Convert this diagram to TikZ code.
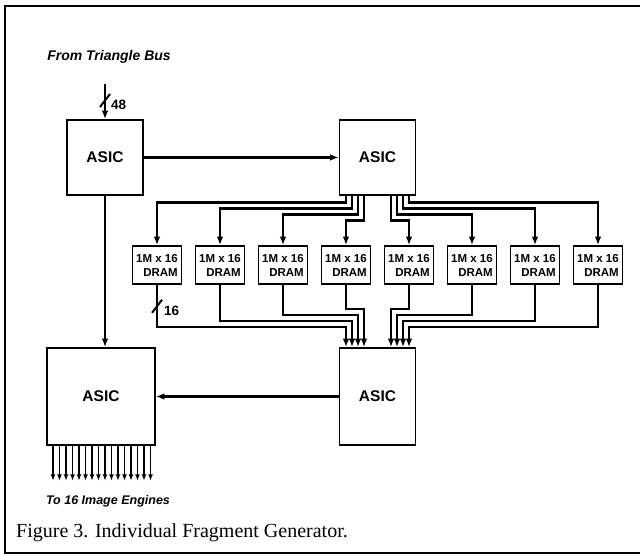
\documentclass[tikz,border=0pt]{standalone}
\usepackage{fontspec}
\setmainfont{Liberation Sans}
\newfontfamily\capfont{Liberation Serif}
\usetikzlibrary{arrows.meta,calc}
\begin{document}
\begin{tikzpicture}[x=1pt,y=-1pt,
 conn/.style={line width=2.6pt,-{Latex[length=8.5pt,width=6.5pt]}},
 fine/.style={line width=1.9pt,-{Latex[length=6.5pt,width=5pt]}},
 asic/.style={draw,line width=1.6pt,minimum width=76pt,minimum height=75pt,inner sep=0pt,font=\bfseries\fontsize{15.5}{17}\selectfont},
 dram/.style={draw,line width=1.6pt,minimum width=49pt,minimum height=38pt,inner sep=0pt,align=right,font=\bfseries\fontsize{11.5}{14}\selectfont},
 lbl/.style={font=\bfseries\itshape\fontsize{14}{16}\selectfont,inner sep=0pt},
 num/.style={font=\bfseries\fontsize{13.5}{15}\selectfont,inner sep=0pt,anchor=west},
 slash/.style={line width=2pt}]
\useasboundingbox (0,0) rectangle (640,556);
% frame
\draw[line width=2.6pt] (660,6) -- (5,6) -- (5,553) -- (660,553);
% ASICs
\node[asic] (a1) at (105,157.5) {ASIC};
\node[asic] (a2) at (377.5,157.5) {ASIC};
\node[asic,minimum width=108pt,minimum height=97pt] (a3) at (101,396.5) {ASIC};
\node[asic,minimum height=97pt] (a4) at (377.5,396.5) {ASIC};
% DRAMs
\foreach \i in {1,...,8}
  \node[dram] (d\i) at ({377.5+(\i-4.5)*63},265) {1M x 16\\DRAM};
% input
\node[lbl] (ftb) at (109,57) {From Triangle Bus};
\coordinate (in) at (105,84);
\draw[conn] (in) -- (a1.north);
\draw[slash] (100,107) -- (110,94);
\node[num] (n48) at (111,105) {48};
% ASIC1 -> ASIC2, ASIC1 -> ASIC3
\draw[conn] (a1) -- (a2);
\draw[conn] (a1.south) -- (a1.south |- a3.north);
% ASIC2 -> DRAMs
\foreach \i/\o/\l in {1/-31.5/7, 2/-25.5/13, 3/-19.5/19, 4/-13.5/25, 5/13.5/25, 6/19.5/19, 7/25.5/13, 8/31.5/7}
  \draw[conn] ([xshift=\o pt]a2.south) -- ++(0,\l) -| (d\i.north);
% DRAMs -> ASIC4
\foreach \i/\o/\l in {1/-31.5/42, 2/-25.5/36, 3/-19.5/30, 4/-13.5/24, 5/13.5/24, 6/19.5/30, 7/25.5/36, 8/31.5/42}
  \draw[conn] (d\i.south) -- ++(0,\l) -| ([xshift=\o pt]a4.north);
\draw[slash] ($(d1.south)+(-5,28)$) -- ++(10,-13);
\node[num] (n16) at (164,311) {16};
% ASIC4 -> ASIC3
\draw[conn] (a4.west) -- (a3.east);
% outputs
\foreach \k in {0,...,15}
  \draw[fine] ([xshift={-48+\k*6.5}]a3.south) -- ++(0,35);
\node[lbl,font=\bfseries\itshape\fontsize{12.5}{14}\selectfont] (out) at (108,501) {To 16 Image Engines};
% caption
\node[anchor=west,inner sep=0pt,font=\capfont\fontsize{20}{24}\selectfont] (cap) at (16,533) {Figure 3. Individual Fragment Generator.};
\end{tikzpicture}
\end{document}
